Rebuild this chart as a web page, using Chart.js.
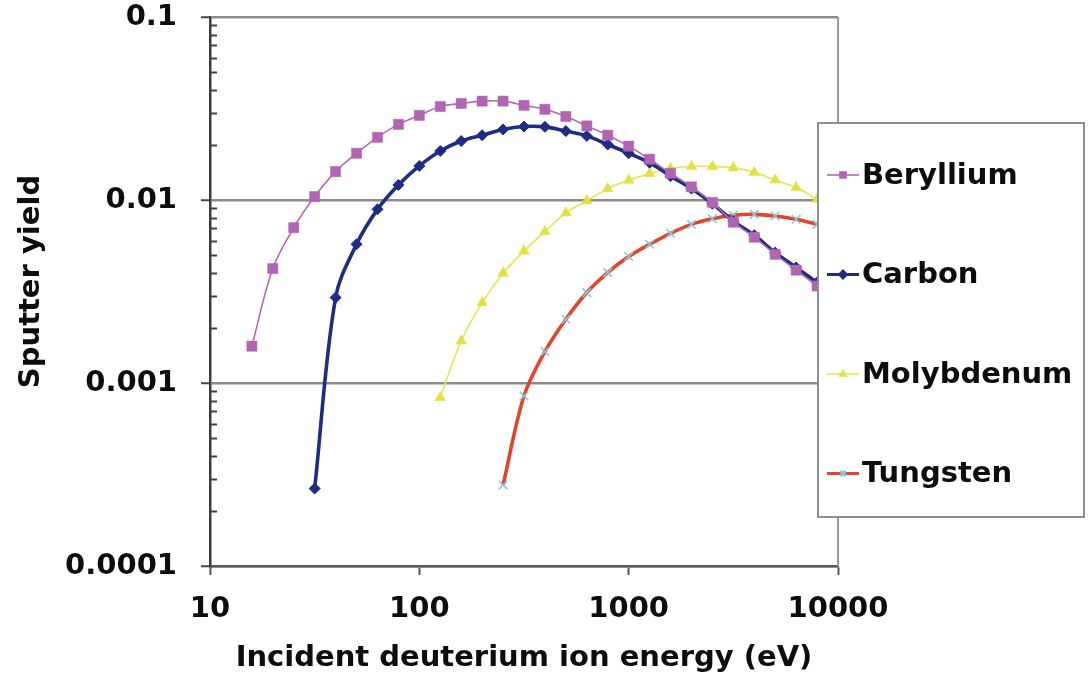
<!DOCTYPE html>
<html>
<head>
<meta charset="utf-8">
<title>Sputter yield vs incident deuterium energy</title>
<script src="https://cdn.jsdelivr.net/npm/chart.js@4/dist/chart.umd.min.js"></script>
<style>
  html, body { margin: 0; padding: 0; background: #ffffff; }
  #wrap { width: 1092px; height: 676px; }
</style>
</head>
<body>
<div id="wrap"><canvas id="chart" width="1092" height="676"></canvas></div>
<script>
// Incident deuterium energies (eV), ten points per decade
const energies = [15.85, 19.95, 25.12, 31.62, 39.81, 50.12, 63.10, 79.43, 100, 125.9,
                  158.5, 199.5, 251.2, 316.2, 398.1, 501.2, 631.0, 794.3, 1000, 1259,
                  1585, 1995, 2512, 3162, 3981, 5012, 6310, 7943];

// Sputter yields (atoms/ion); null = below threshold
const beryllium = [0.00159, 0.00422, 0.00706, 0.01044, 0.01429, 0.0180, 0.0220, 0.0259, 0.0290, 0.0324,
                   0.0337, 0.0347, 0.0347, 0.0329, 0.0313, 0.0286, 0.0254, 0.0226, 0.0197, 0.0167,
                   0.0140, 0.0118, 0.0097, 0.00756, 0.00626, 0.00505, 0.00414, 0.00339];
const carbon = [null, null, null, 0.000265, 0.00293, 0.00573, 0.00889, 0.01208, 0.01535, 0.01853,
                0.0210, 0.0226, 0.0243, 0.0252, 0.0251, 0.0238, 0.0224, 0.0201, 0.0180, 0.0160,
                0.0135, 0.01154, 0.00955, 0.00767, 0.00642, 0.00516, 0.00428, 0.00354];
const molybdenum = [null, null, null, null, null, null, null, null, null, 0.000832,
                    0.00170, 0.00275, 0.00398, 0.00526, 0.00672, 0.0085, 0.0099, 0.01154, 0.01282, 0.01394,
                    0.01485, 0.01524, 0.01524, 0.01503, 0.01413, 0.01286, 0.01169, 0.0101];
const tungsten = [null, null, null, null, null, null, null, null, null, null,
                  null, null, 0.000277, 0.000849, 0.001486, 0.00223, 0.00312, 0.00401, 0.00491, 0.00573,
                  0.00658, 0.00736, 0.0079, 0.00824, 0.00835, 0.00818, 0.00785, 0.00736];

const seriesNames = ['Beryllium', 'Carbon', 'Molybdenum', 'Tungsten'];

// Axis ticks and titles
const xTickValues = [10, 100, 1000, 10000];
const xTickLabels = ['10', '100', '1000', '10000'];
const yTickValues = [0.0001, 0.001, 0.01, 0.1];
const yTickLabels = ['0.0001', '0.001', '0.01', '0.1'];
const yMinorSteps = [2, 3, 4, 5, 6, 7, 8, 9];
const xTitle = 'Incident deuterium ion energy (eV)';
const yTitle = 'Sputter yield';

const FONT_FAMILY = '"DejaVu Sans", Verdana, sans-serif';
const toPoints = ys => energies.map((x, i) => ({ x, y: ys[i] })).filter(p => p.y !== null);

Chart.defaults.font.family = FONT_FAMILY;
Chart.defaults.font.weight = 'bold';
Chart.defaults.font.size = 29;
Chart.defaults.color = '#0d0d0d';

// Minor ticks inside the y axis, right frame edge, y title and the boxed legend
const decorations = {
  id: 'decorations',
  beforeDatasetsDraw(chart) {
    const { ctx, chartArea: a, scales: { y } } = chart;
    ctx.save();
    ctx.strokeStyle = '#9a9a9a';
    ctx.lineWidth = 2;
    ctx.beginPath();
    ctx.moveTo(a.right, a.top);
    ctx.lineTo(a.right, a.bottom);
    ctx.stroke();
    ctx.strokeStyle = '#444';
    ctx.lineWidth = 2;
    ctx.beginPath();
    yTickValues.slice(0, -1).forEach(d => {
      yMinorSteps.forEach(m => {
        const py = Math.round(y.getPixelForValue(d * m)) + 0.5;
        ctx.moveTo(a.left, py);
        ctx.lineTo(a.left + 7, py);
      });
    });
    ctx.stroke();
    ctx.restore();
  },
  afterDraw(chart) {
    const { ctx, chartArea: a } = chart;
    ctx.save();
    ctx.font = 'bold 29px ' + FONT_FAMILY;
    ctx.fillStyle = '#0d0d0d';

    // vertical axis title
    ctx.save();
    ctx.translate(31, (a.top + a.bottom) / 2 - 10);
    ctx.rotate(-Math.PI / 2);
    ctx.textAlign = 'center';
    ctx.textBaseline = 'middle';
    ctx.fillText(yTitle, 0, 0);
    ctx.restore();

    // legend box
    const box = { x: 818, y: 123, w: 266, h: 394 };
    ctx.fillStyle = '#ffffff';
    ctx.fillRect(box.x, box.y, box.w, box.h);
    ctx.strokeStyle = '#8f8f8f';
    ctx.lineWidth = 2;
    ctx.strokeRect(box.x, box.y, box.w, box.h);
    ctx.textBaseline = 'middle';
    ctx.textAlign = 'left';
    chart.data.datasets.forEach((ds, i) => {
      const cy = box.y + 52 + i * 99.5;
      ctx.strokeStyle = ds.borderColor;
      ctx.lineWidth = Math.min(ds.borderWidth, 3);
      ctx.beginPath();
      ctx.moveTo(box.x + 9, cy);
      ctx.lineTo(box.x + 41, cy);
      ctx.stroke();
      ctx.fillStyle = ds.pointBackgroundColor;
      ctx.strokeStyle = ds.pointBorderColor;
      Chart.helpers.drawPoint(ctx, {
        pointStyle: ds.pointStyle, radius: ds.pointRadius * 0.6,
        rotation: 0, borderWidth: ds.pointBorderWidth
      }, box.x + 25, cy);
      ctx.fillStyle = '#0d0d0d';
      ctx.fillText(ds.label, box.x + 44, cy + 1);
    });
    ctx.restore();
  }
};

const chart = new Chart(document.getElementById('chart'), {
  type: 'line',
  data: {
    datasets: [
      {
        label: seriesNames[0], data: toPoints(beryllium),
        borderColor: '#b469b6', borderWidth: 1.6,
        pointStyle: 'rect', pointRadius: 7.2,
        pointBackgroundColor: '#b064b2', pointBorderColor: '#b064b2', pointBorderWidth: 0.5
      },
      {
        label: seriesNames[1], data: toPoints(carbon),
        borderColor: '#1f2c86', borderWidth: 3.6,
        pointStyle: 'rectRot', pointRadius: 5.5,
        pointBackgroundColor: '#1f2c86', pointBorderColor: '#1f2c86', pointBorderWidth: 1
      },
      {
        label: seriesNames[2], data: toPoints(molybdenum),
        borderColor: '#e6e552', borderWidth: 1.6,
        pointStyle: 'triangle', pointRadius: 6.2,
        pointBackgroundColor: '#e2e144', pointBorderColor: '#e2e144', pointBorderWidth: 0.5
      },
      {
        label: seriesNames[3], data: toPoints(tungsten),
        borderColor: '#e2442e', borderWidth: 3.6,
        pointStyle: 'crossRot', pointRadius: 6,
        pointBackgroundColor: '#86c6d6', pointBorderColor: '#86c6d6', pointBorderWidth: 1.6
      }
    ]
  },
  options: {
    responsive: false,
    animation: false,
    devicePixelRatio: 1,
    layout: { padding: { top: 17, right: 254, left: 0, bottom: 0 } },
    elements: { line: { tension: 0.35, fill: false } },
    plugins: { legend: { display: false }, tooltip: { enabled: false } },
    scales: {
      x: {
        type: 'logarithmic', position: 'bottom', min: 10, max: 10000,
        afterBuildTicks: s => { s.ticks = xTickValues.map(v => ({ value: v })); },
        afterFit: s => { s.height = 110; s.paddingLeft = 0; s.paddingRight = 0; },
        ticks: {
          autoSkip: false, maxRotation: 0, padding: 17,
          callback: (v, i) => xTickLabels[i]
        },
        grid: { drawOnChartArea: false, drawTicks: true, tickLength: 9, tickColor: '#555', tickWidth: 2 },
        border: { display: true, color: '#5a5a5a', width: 2.5 },
        title: { display: true, text: xTitle, padding: { top: 0, bottom: 0 } }
      },
      y: {
        type: 'logarithmic', position: 'left', min: 0.0001, max: 0.1,
        afterBuildTicks: s => { s.ticks = yTickValues.map(v => ({ value: v })); },
        afterFit: s => { s.width = 210; s.paddingTop = 0; s.paddingBottom = 0; },
        ticks: { autoSkip: false, padding: 24, callback: (v, i) => yTickLabels[i] },
        grid: { color: '#8c8c8c', lineWidth: 2.5, tickLength: 9, tickColor: '#444', tickWidth: 2 },
        border: { display: true, color: '#3c3c3c', width: 2.5 },
        title: { display: false, text: yTitle }
      }
    }
  },
  plugins: [decorations]
});
</script>
</body>
</html>
